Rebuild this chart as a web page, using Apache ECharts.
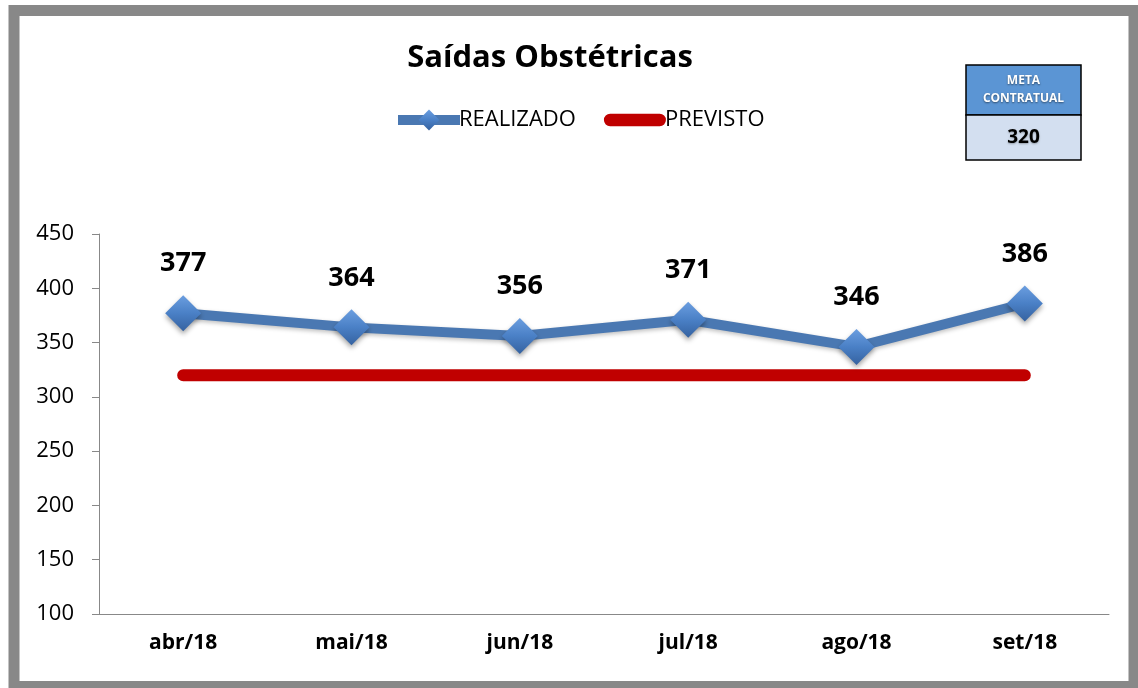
<!DOCTYPE html>
<html>
<head>
<meta charset="utf-8">
<script src="https://cdn.jsdelivr.net/npm/echarts@6/dist/echarts.min.js"></script>
<style>
  html, body { margin: 0; padding: 0; background: #fff; }
  #chart { width: 1138px; height: 688px; }
</style>
</head>
<body>
<div id="chart"></div>
<script>
var meses = ['abr/18', 'mai/18', 'jun/18', 'jul/18', 'ago/18', 'set/18'];
var realizado = [377, 364, 356, 371, 346, 386];
var previsto = [320, 320, 320, 320, 320, 320];
var metaContratual = 320;

var FONT = '"Open Sans"';
var chart = echarts.init(document.getElementById('chart'));

var diamondFill = {
  type: 'linear', x: 0, y: 0, x2: 0, y2: 1,
  colorStops: [{ offset: 0, color: '#6b9ee0' }, { offset: 0.5, color: '#4a80c6' }, { offset: 1, color: '#3562a0' }]
};

var option = {
  backgroundColor: '#ffffff',
  animation: false,
  title: {
    text: 'Saídas Obstétricas',
    left: 545,
    textAlign: 'center',
    top: 38,
    textStyle: { fontFamily: FONT, fontSize: 31, fontWeight: 'bold', color: '#000' }
  },
  legend: {
    top: 104,
    left: 388,
    itemWidth: 62,
    itemHeight: 26,
    itemGap: 28,
    textStyle: { fontFamily: FONT, fontSize: 22, color: '#000', padding: [0, 0, 0, -6] },
    data: [
      { name: 'REALIZADO', lineStyle: { width: 10 } },
      { name: 'PREVISTO', icon: 'path://M6,0 L54,0 A6,6 0 0 1 54,12 L6,12 A6,6 0 0 1 6,0 Z', itemStyle: { color: '#c00000' } }
    ]
  },
  grid: { left: 99, right: 29, top: 234, bottom: 74 },
  xAxis: {
    type: 'category',
    data: meses,
    boundaryGap: true,
    axisLine: { lineStyle: { color: '#888', width: 1 } },
    axisTick: { show: false },
    axisLabel: { fontFamily: FONT, fontSize: 21, fontWeight: 'bold', color: '#000', margin: 19 }
  },
  yAxis: {
    type: 'value',
    min: 100,
    max: 450,
    interval: 50,
    axisLine: { show: true, lineStyle: { color: '#888', width: 1 } },
    axisTick: { show: true, length: 7, lineStyle: { color: '#888' } },
    splitLine: { show: false },
    axisLabel: { fontFamily: FONT, fontSize: 22, color: '#000', margin: 25 }
  },
  series: [
    {
      name: 'PREVISTO',
      type: 'line',
      data: previsto,
      symbol: 'none',
      z: 2,
      itemStyle: { color: '#c00000' },
      lineStyle: { color: '#c00000', width: 12, cap: 'round' }
    },
    {
      name: 'REALIZADO',
      type: 'line',
      data: realizado,
      symbol: 'diamond',
      symbolSize: 36,
      z: 3,
      lineStyle: { color: '#4a78b2', width: 10, shadowColor: 'rgba(0,0,0,0.25)', shadowBlur: 4, shadowOffsetY: 2 },
      itemStyle: {
        color: diamondFill,
        shadowColor: 'rgba(0,0,0,0.35)', shadowBlur: 5, shadowOffsetY: 3
      },
      label: {
        show: true,
        position: 'top',
        distance: 18,
        fontFamily: FONT,
        fontSize: 27,
        fontWeight: 'bold',
        color: '#000'
      }
    }
  ],
  graphic: [
    // moldura cinza
    { type: 'rect', silent: true, z: 100, shape: { x: 14, y: 10.5, width: 1120, height: 676 },
      style: { fill: 'none', stroke: '#888888', lineWidth: 11 } },
    // caixa meta contratual
    { type: 'rect', z: 100, shape: { x: 966, y: 65, width: 115, height: 50 },
      style: { fill: '#5b95d4', stroke: '#000', lineWidth: 1.5 } },
    { type: 'rect', z: 100, shape: { x: 966, y: 115, width: 115, height: 45 },
      style: { fill: '#d3dff0', stroke: '#000', lineWidth: 1.5 } },
    { type: 'text', z: 101, x: 1023.5, y: 90, style: {
        text: 'META\nCONTRATUAL', fill: '#fff', align: 'center', verticalAlign: 'middle',
        font: 'bold 12px ' + FONT, lineHeight: 18,
        textShadowColor: 'rgba(0,0,0,0.5)', textShadowBlur: 2, textShadowOffsetY: 1 } },
    { type: 'text', z: 101, x: 1023.5, y: 138, style: {
        text: String(metaContratual), fill: '#000', align: 'center', verticalAlign: 'middle',
        font: 'bold 19px ' + FONT,
        textShadowColor: 'rgba(0,0,0,0.3)', textShadowBlur: 2, textShadowOffsetY: 1 } }
  ]
};

chart.setOption(option);
</script>
</body>
</html>
